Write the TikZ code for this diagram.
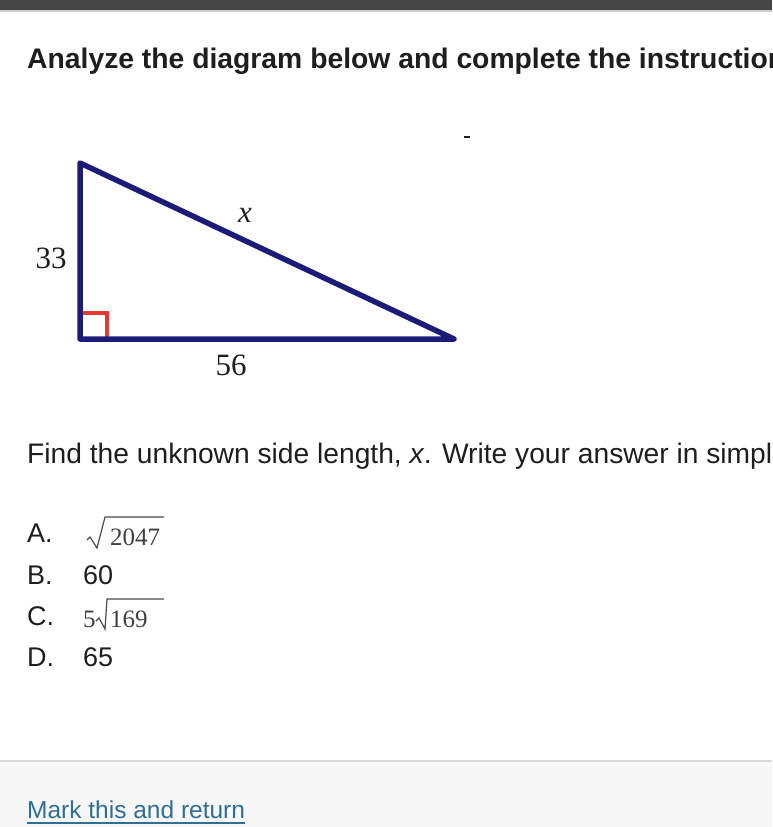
\documentclass[tikz,border=0pt]{standalone}
\usepackage{fontspec}
\setmainfont{Liberation Sans}
\newfontfamily\serifnum{Liberation Serif}
\definecolor{navyline}{HTML}{1B1B7A}
\definecolor{redmark}{HTML}{E23A2E}
\definecolor{txt}{HTML}{1E1E1E}
\definecolor{topbar}{HTML}{454545}
\definecolor{footbg}{HTML}{F7F7F7}
\definecolor{footline}{HTML}{D8D8D8}
\definecolor{linkc}{HTML}{2F6F96}
\tikzset{
  txtnode/.style={anchor=base west, inner sep=0pt, text=txt},
  lbl/.style={anchor=base, inner sep=0pt, text=txt, font=\serifnum\fontsize{31}{31}\selectfont},
  side/.style={draw=navyline, line width=5.5pt, line join=round, line cap=round},
  radical/.style={draw=txt!80, line width=1.2pt, line join=miter},
  radnum/.style={anchor=base west, inner sep=0pt, text=txt!85, font=\serifnum\fontsize{25}{25}\selectfont},
  optfont/.style={font=\fontsize{27}{27}\selectfont},
}
\begin{document}
\begin{tikzpicture}[x=1pt,y=-1pt]
\useasboundingbox (0,0) rectangle (772,827);
\clip (0,0) rectangle (772,827);
% top bar
\fill[topbar] (0,0) rectangle (772,10);
\fill[gray!40] (0,10) rectangle (772,11.5);
% footer
\fill[footbg] (0,761) rectangle (772,827);
\draw[footline, line width=1.5pt] (0,761) -- (772,761);
% title
\node[txtnode, font=\bfseries\fontsize{28.3}{28.3}\selectfont] (title) at (27,68) {Analyze the diagram below and complete the instructions};
% small dash
\draw[txt, line width=1.5pt] (464,137) -- (470,137);
% triangle
\coordinate (T) at (80,163);
\coordinate (C) at (80,339);
\coordinate (R) at (454,339);
\draw[redmark, line width=4.5pt] (80,313) -- (107,313) -- (107,339);
\draw[side] (T) -- (C) -- (R) -- cycle;
\node[lbl] (l33) at (51,268) {33};
\node[lbl] (lx) at (245,222) {\itshape x};
\node[lbl] (l56) at (231,375) {56};
% question
\node[txtnode, font=\fontsize{28.2}{28.2}\selectfont] (q) at (27,463) {Find the unknown side length, \textit{x}. Write your answer in simplest};
% options
\node[txtnode, optfont] (oa) at (27,542) {A.};
\node[txtnode, optfont] (ob) at (27,584) {B.};
\node[txtnode, optfont] (oc) at (27,625) {C.};
\node[txtnode, optfont] (od) at (27,666) {D.};
% A value
\draw[radical] (87,540) -- (90,537) -- (97,548) -- (105,517) -- (164,517);
\node[radnum] (va) at (110,545) {2047};
% B value
\node[txtnode, optfont] (vb) at (83,584) {60};
% C value
\node[radnum] (v5) at (83,627) {5};
\draw[radical] (96,621) -- (99,618) -- (105,629) -- (107,599) -- (164,599);
\node[radnum] (vc) at (110,627) {169};
% D value
\node[txtnode, optfont] (vd) at (83,666) {65};
% link
\node[txtnode, text=linkc, font=\fontsize{24.5}{24.5}\selectfont] (link) at (27,818) {Mark this and return};
\draw[linkc, line width=1.2pt] (27,823) -- (245,823);
\end{tikzpicture}
\end{document}
